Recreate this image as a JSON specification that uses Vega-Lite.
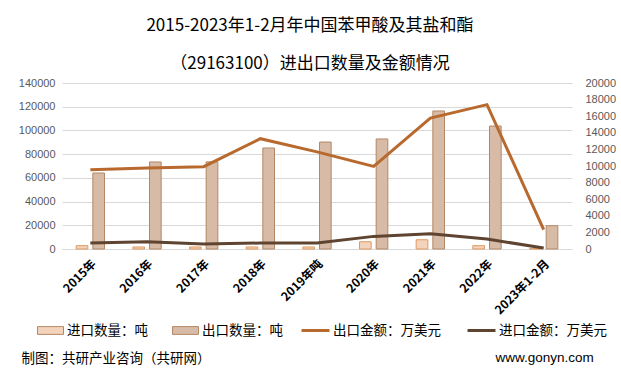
{
  "$schema": "https://vega.github.io/schema/vega-lite/v6.json",
  "width": 510,
  "height": 166,
  "autosize": "none",
  "padding": {"left": 62, "top": 83, "right": 49, "bottom": 128},
  "background": "white",
  "title": {
    "text": ["2015-2023年1-2月年中国苯甲酸及其盐和酯", "（29163100）进出口数量及金额情况"],
    "font": "Noto Sans CJK SC",
    "fontSize": 17,
    "fontWeight": "normal",
    "color": "#000000",
    "anchor": "middle",
    "offset": 4,
    "lineHeight": 38,
    "dx": -7
  },
  "config": {
    "view": {"stroke": null},
    "font": "Noto Sans CJK SC"
  },
  "data": {
    "values": [
      {"year": "2015年", "进口数量：吨": 2800, "出口数量：吨": 64100, "出口金额：万美元": 9550, "进口金额：万美元": 720},
      {"year": "2016年", "进口数量：吨": 1700, "出口数量：吨": 73400, "出口金额：万美元": 9760, "进口金额：万美元": 880},
      {"year": "2017年", "进口数量：吨": 1700, "出口数量：吨": 73500, "出口金额：万美元": 9920, "进口金额：万美元": 600},
      {"year": "2018年", "进口数量：吨": 1700, "出口数量：吨": 85200, "出口金额：万美元": 13290, "进口金额：万美元": 720},
      {"year": "2019年吨", "进口数量：吨": 1700, "出口数量：吨": 90200, "出口金额：万美元": 11700, "进口金额：万美元": 720},
      {"year": "2020年", "进口数量：吨": 6100, "出口数量：吨": 92800, "出口金额：万美元": 9950, "进口金额：万美元": 1520},
      {"year": "2021年", "进口数量：吨": 7800, "出口数量：吨": 116400, "出口金额：万美元": 15780, "进口金额：万美元": 1840},
      {"year": "2022年", "进口数量：吨": 2800, "出口数量：吨": 103700, "出口金额：万美元": 17390, "进口金额：万美元": 1200},
      {"year": "2023年1-2月", "进口数量：吨": 300, "出口数量：吨": 19650, "出口金额：万美元": 2330, "进口金额：万美元": 120}
    ]
  },
  "encoding": {
    "x": {
      "field": "year",
      "type": "nominal",
      "sort": null,
      "scale": {"paddingInner": 0.5, "paddingOuter": 0.25},
      "axis": {
        "title": null,
        "labelAngle": -45,
        "labelAlign": "right",
        "labelBaseline": "top",
        "labelFont": "Noto Sans CJK SC",
        "labelFontSize": 12,
        "labelFontWeight": "bold",
        "labelColor": "#000000",
        "labelPadding": 9,
        "ticks": false,
        "domainColor": "#D9D9D9",
        "grid": false
      }
    }
  },
  "layer": [
    {
      "transform": [{"fold": ["进口数量：吨", "出口数量：吨"], "as": ["s", "v"]}],
      "mark": {"type": "bar", "strokeWidth": 1},
      "encoding": {
        "xOffset": {"field": "s", "type": "nominal", "sort": ["进口数量：吨", "出口数量：吨"], "scale": {"paddingInner": 0.3}},
        "y": {
          "field": "v",
          "type": "quantitative",
          "scale": {"domain": [0, 140000], "nice": false},
          "axis": {
            "orient": "left",
            "values": [0, 20000, 40000, 60000, 80000, 100000, 120000, 140000],
            "format": "d",
            "grid": true,
            "gridColor": "#D9D9D9",
            "domain": false,
            "ticks": false,
            "labelColor": "#595959",
            "labelFont": "Liberation Sans",
            "labelFontSize": 11,
            "labelPadding": 7,
            "title": "制图：共研产业咨询（共研网）",
            "titleAngle": 0,
            "titleX": -41,
            "titleY": 275,
            "titleAlign": "left",
            "titleBaseline": "middle",
            "titleFont": "Noto Sans CJK SC",
            "titleFontSize": 13.5,
            "titleFontWeight": "normal",
            "titleColor": "#000000"
          }
        },
        "fill": {
          "field": "s",
          "type": "nominal",
          "scale": {"domain": ["进口数量：吨", "出口数量：吨"], "range": ["#F3D3BC", "#D7BBA6"]},
          "legend": {
            "title": null,
            "orient": "none",
            "direction": "horizontal",
            "legendX": -25,
            "legendY": 234,
            "symbolType": "M-1,-0.3H1V0.3H-1Z",
            "symbolSize": 676,
            "symbolStrokeWidth": 1,
            "labelFont": "Noto Sans CJK SC",
            "labelFontSize": 13.5,
            "labelColor": "#000000",
            "labelOffset": 3,
            "columnPadding": 22,
            "padding": 0,
            "encode": {
              "symbols": {"update": {"stroke": {"signal": "datum.value === '进口数量：吨' ? '#E0995E' : '#B48866'"}}}
            }
          }
        },
        "stroke": {
          "condition": {"test": "datum.s === '进口数量：吨'", "value": "#E0995E"},
          "value": "#B48866"
        }
      }
    },
    {
      "transform": [{"fold": ["出口金额：万美元", "进口金额：万美元"], "as": ["s2", "v2"]}],
      "mark": {"type": "line", "strokeWidth": 3},
      "encoding": {
        "y": {
          "field": "v2",
          "type": "quantitative",
          "scale": {"domain": [0, 20000], "nice": false},
          "axis": {
            "orient": "right",
            "values": [0, 2000, 4000, 6000, 8000, 10000, 12000, 14000, 16000, 18000, 20000],
            "format": "d",
            "grid": false,
            "domain": false,
            "ticks": false,
            "labelColor": "#595959",
            "labelFont": "Liberation Sans",
            "labelFontSize": 11,
            "labelPadding": 13,
            "title": "www.gonyn.com",
            "titleAngle": 0,
            "titleX": -77,
            "titleY": 274,
            "titleAlign": "left",
            "titleBaseline": "middle",
            "titleFont": "Liberation Sans",
            "titleFontSize": 13.5,
            "titleFontWeight": "normal",
            "titleColor": "#000000"
          }
        },
        "color": {
          "field": "s2",
          "type": "nominal",
          "scale": {"domain": ["出口金额：万美元", "进口金额：万美元"], "range": ["#B8692D", "#5F4431"]},
          "legend": {
            "title": null,
            "orient": "none",
            "direction": "horizontal",
            "legendX": 238,
            "legendY": 232,
            "symbolType": "stroke",
            "symbolSize": 784,
            "symbolStrokeWidth": 3,
            "labelFont": "Noto Sans CJK SC",
            "labelFontSize": 13.5,
            "labelColor": "#000000",
            "labelOffset": 2,
            "columnPadding": 20,
            "padding": 0
          }
        }
      }
    }
  ],
  "resolve": {"scale": {"y": "independent", "fill": "independent", "color": "independent"}}
}
